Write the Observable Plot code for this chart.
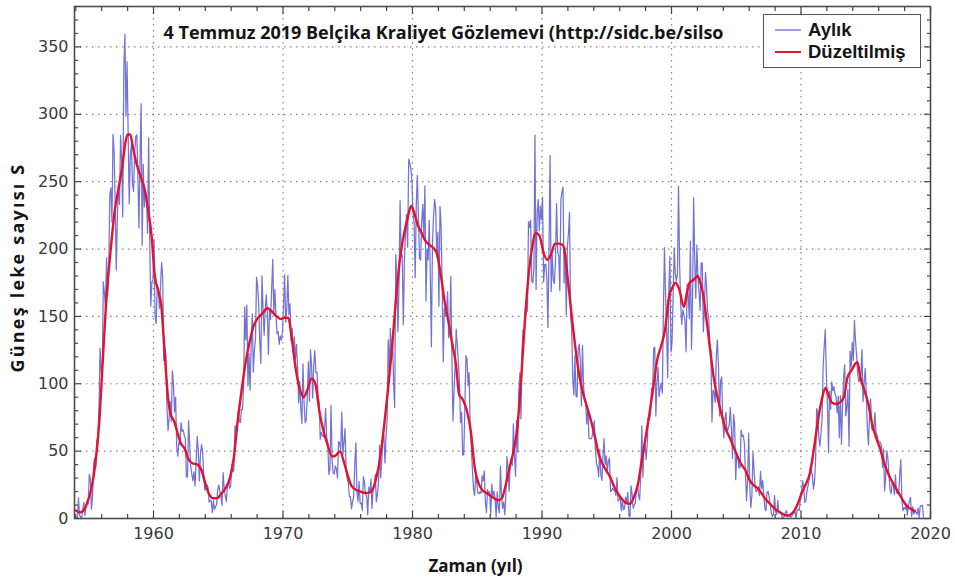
<!DOCTYPE html>
<html><head><meta charset="utf-8">
<script src="https://cdn.jsdelivr.net/npm/d3@7"></script>
<script src="https://cdn.jsdelivr.net/npm/@observablehq/plot@0.6"></script>
<style>
body{margin:0;background:#fff;}
#wrap{position:relative;width:955px;height:578px;}
#legend{position:absolute;left:763px;top:14px;width:158px;height:54px;border:1.5px solid #555;background:#fff;font:bold 18.5px/20px "Liberation Sans",Arial,sans-serif;color:#151515;box-sizing:border-box;}
.item{position:absolute;left:11px;height:20px;line-height:20px;display:flex;align-items:center;white-space:nowrap;}
.sw{width:26px;height:0;border-top:2px solid;margin-right:7px;}
</style></head><body><div id="wrap"></div>
<script>
// ---- data ----
const startYear = 1954;
// monthly mean sunspot number (Aylık), Jan 1954 .. Jun 2019
const monthly = [
0.3,0.7,15.4,2.5,1.1,0.3,6.8,11.9,2.1,9.9,13.0,10.8,
32.7,29.5,6.9,16.0,40.9,44.9,37.8,57.6,60.5,82.8,126.3,108.9,
104.2,175.6,167.7,156.8,193.4,165.1,182.8,240.2,245.3,219.9,285.1,272.0,
233.7,184.4,222.9,248.1,233.1,284.2,265.1,223.7,333.9,359.4,298.6,339.0,
286.7,233.5,270.0,277.5,248.2,242.8,271.0,283.5,284.9,257.0,215.7,265.6,
307.8,202.6,262.9,231.2,243.5,238.9,211.8,282.6,205.6,157.7,175.6,177.0,
207.2,150.1,144.7,172.8,169.4,156.0,172.3,189.9,180.1,117.2,126.9,121.2,
82.0,65.3,75.0,86.9,72.2,109.6,99.4,79.2,90.1,53.4,46.2,56.5,
54.8,71.2,64.6,65.7,61.9,59.5,30.9,30.9,72.6,55.9,38.1,32.9,
28.0,34.6,24.2,41.5,60.9,50.8,27.8,47.0,54.9,50.0,33.1,21.1,
21.7,25.1,23.4,12.2,13.5,12.9,4.4,13.2,6.7,8.6,10.5,21.4,
24.8,20.1,16.6,9.6,34.1,22.5,16.9,12.6,23.8,28.5,22.4,24.1,
39.9,34.6,35.8,69.0,64.1,67.5,80.3,72.5,71.1,81.0,81.0,99.7,
157.0,132.5,158.3,98.4,122.5,95.3,129.6,151.8,108.7,124.9,133.5,179.0,
172.5,158.4,130.6,115.0,180.1,156.2,136.1,154.8,166.0,152.5,121.8,155.5,
147.8,170.6,192.3,151.2,169.9,150.1,137.1,138.8,129.3,135.5,132.4,138.6,
157.9,181.0,145.7,155.1,180.5,151.2,159.3,131.7,140.9,122.6,134.8,118.2,
129.3,111.9,86.0,101.7,81.4,70.5,114.7,86.9,71.1,73.2,89.5,116.4,
87.1,125.2,113.4,89.5,114.0,124.6,108.3,108.7,90.6,86.8,58.9,64.1,
61.5,60.7,65.1,81.7,60.0,55.9,32.7,36.2,84.0,43.5,33.8,33.0,
39.1,36.8,30.2,57.1,55.9,51.0,79.0,47.6,56.9,66.7,35.4,29.0,
26.8,16.3,16.3,7.2,12.7,16.1,39.9,56.2,19.7,12.9,27.5,11.0,
11.5,6.1,31.0,26.6,17.6,17.3,2.7,23.2,19.1,29.2,7.4,21.7,
23.2,32.7,12.3,18.3,26.3,54.5,30.3,42.6,62.3,62.0,41.2,61.2,
73.5,132.5,108.3,141.2,117.1,134.7,99.7,82.3,195.7,177.1,138.6,173.8,
235.9,194.7,195.4,143.7,190.3,211.7,225.7,201.4,266.8,263.7,259.6,249.6,
226.0,219.5,178.7,232.4,254.7,222.7,193.0,191.7,219.5,233.2,209.4,246.9,
161.4,200.1,191.9,221.5,180.5,127.4,203.6,224.7,236.9,230.0,194.7,212.5,
157.5,231.7,217.8,172.8,116.4,156.3,150.2,152.4,168.2,134.1,138.9,179.8,
119.4,72.2,94.2,114.3,140.5,129.0,116.4,101.7,71.2,79.0,47.2,47.3,
80.7,120.9,118.2,98.7,108.2,65.3,53.0,36.1,22.2,17.0,32.3,26.5,
19.0,18.3,19.8,18.6,31.6,27.8,35.3,12.8,4.5,21.4,18.6,19.9,
2.8,25.5,16.6,20.4,15.1,1.2,19.9,8.1,4.2,38.9,16.7,7.5,
12.1,2.8,17.1,45.9,38.3,20.2,38.3,44.9,39.3,70.3,46.3,31.4,
72.6,49.2,93.7,108.2,73.9,125.2,140.0,137.3,147.7,153.9,153.9,220.4,
216.1,221.2,176.1,175.0,185.6,284.5,169.9,226.3,236.8,213.6,231.8,221.8,
238.5,175.5,188.7,188.7,177.8,141.8,200.9,269.4,168.4,195.7,176.7,174.4,
191.0,233.7,198.0,195.3,169.2,236.7,242.3,245.9,174.8,201.0,150.9,201.4,
211.5,227.2,150.4,140.7,104.1,91.9,120.8,90.9,90.1,125.1,129.4,116.5,
83.6,128.3,98.4,87.7,86.4,70.2,81.6,59.8,59.2,59.1,60.8,66.7,
72.4,51.4,40.9,38.6,31.0,51.4,32.8,28.2,45.3,59.4,39.9,46.5,
34.8,43.0,44.7,20.1,20.8,22.4,20.8,20.6,17.0,30.3,12.9,14.4,
15.5,5.9,12.4,6.5,7.4,15.9,11.1,19.4,2.2,1.2,24.2,18.0,
7.6,10.2,11.7,20.8,24.8,17.0,13.9,32.7,68.7,30.6,52.3,55.2,
43.7,55.2,75.1,73.2,77.1,96.9,91.2,126.3,127.3,76.0,101.4,112.2,
90.5,96.8,100.4,93.0,155.3,201.0,165.7,136.8,104.4,170.4,194.5,123.5,
130.6,163.7,200.8,182.0,176.3,181.1,246.6,189.2,159.1,144.1,154.9,151.4,
146.7,123.7,174.2,165.3,148.3,205.7,125.6,163.3,238.2,192.6,163.5,202.9,
179.1,168.6,154.5,189.5,189.7,138.6,156.4,182.7,172.1,153.1,149.2,128.1,
124.3,71.8,95.3,93.6,86.1,120.7,132.6,113.4,76.1,102.2,105.0,72.5,
59.9,74.1,78.7,63.3,66.8,69.6,82.3,65.9,44.6,77.3,70.0,28.8,
48.2,45.0,37.7,37.6,65.6,61.0,61.8,56.1,34.0,13.1,27.7,63.4,
25.0,8.0,17.3,49.2,36.3,22.7,19.9,21.0,23.5,17.1,34.9,22.2,
28.1,17.9,7.5,5.7,19.5,20.2,16.2,10.0,4.0,1.5,2.8,16.9,
4.8,3.0,13.5,4.2,4.6,4.9,0.7,0.7,1.6,4.2,5.9,1.2,
2.2,2.0,1.0,1.7,4.2,3.8,5.1,0.0,6.4,6.7,6.1,15.4,
19.7,27.9,23.1,11.9,13.2,20.3,24.2,29.4,37.8,35.3,32.4,21.8,
27.6,42.6,81.5,78.9,60.3,53.7,63.5,73.4,113.1,127.6,140.2,105.9,
85.7,48.7,94.4,81.1,101.4,94.8,97.8,92.6,90.3,78.4,90.8,60.0,
91.2,55.2,84.0,105.0,114.1,76.1,82.7,95.7,53.7,124.1,112.5,130.9,
117.3,147.0,131.8,121.4,107.5,101.5,103.5,106.7,125.3,86.7,100.2,111.5,
93.0,66.7,54.5,75.3,88.8,66.5,65.8,64.4,78.6,63.6,62.2,58.0,
57.0,56.4,54.1,37.9,51.5,20.5,32.4,50.2,44.6,33.4,21.4,18.5,
26.1,26.4,17.7,32.3,18.9,19.2,17.8,32.6,43.7,13.2,5.7,8.2,
6.8,10.7,2.5,8.9,13.1,15.6,1.6,8.7,3.3,4.9,4.9,3.1,
7.7,0.8,9.4,9.1,9.9,1.2
];
// 13-month smoothed sunspot number (Düzeltilmiş)
const smoothYears = [
1954.0,1954.3,1954.6,1954.9,1955.2,1955.5,1955.8,1956.1,1956.4,1956.7,1957.0,1957.3,1957.6,1957.85,1958.0,1958.2,1958.4,1958.7,1959.0,1959.3,1959.6,1959.85,1960.1,1960.4,1960.6,1960.85,1961.1,1961.3,1961.6,1961.9,1962.1,1962.4,1962.7,1963.0,1963.4,1963.7,1964.0,1964.3,1964.6,1964.9,
1965.2,1965.6,1965.9,1966.2,1966.5,1966.8,1967.1,1967.4,1967.7,1968.0,1968.4,1968.8,1969.1,1969.5,1969.8,1970.1,1970.4,1970.7,1971.0,1971.3,1971.6,1971.9,1972.2,1972.5,1972.8,1973.1,1973.4,1973.8,1974.1,1974.4,1974.7,1975.0,1975.3,1975.7,1976.0,1976.3,1976.6,1976.9,
1977.2,1977.5,1977.8,1978.1,1978.4,1978.7,1979.0,1979.3,1979.6,1979.9,1980.1,1980.4,1980.7,1981.0,1981.3,1981.6,1981.9,1982.2,1982.5,1982.8,1983.1,1983.35,1983.6,1983.9,1984.2,1984.5,1984.8,1985.1,1985.4,1985.7,1986.0,1986.3,1986.6,1986.9,1987.2,
1987.5,1987.8,1988.1,1988.4,1988.7,1989.0,1989.25,1989.5,1989.8,1990.1,1990.4,1990.7,1991.0,1991.3,1991.6,1991.8,1992.0,1992.3,1992.6,1992.9,1993.2,1993.5,1993.8,1994.1,1994.4,1994.7,1995.0,1995.3,1995.6,1995.9,1996.2,1996.5,1996.8,1997.1,1997.4,1997.7,
1998.0,1998.3,1998.6,1998.9,1999.2,1999.5,1999.8,2000.1,2000.3,2000.6,2000.95,2001.2,2001.4,2001.7,2002.0,2002.2,2002.45,2002.7,2002.95,2003.3,2003.6,2003.9,2004.2,2004.5,2004.8,2005.1,2005.4,2005.7,2006.0,2006.3,2006.7,2007.0,2007.3,2007.65,2008.0,2008.4,2008.9,2009.2,2009.5,2009.8,
2010.1,2010.4,2010.7,2011.0,2011.3,2011.6,2011.9,2012.1,2012.4,2012.7,2013.0,2013.3,2013.6,2013.9,2014.2,2014.35,2014.6,2014.9,2015.2,2015.5,2015.8,2016.1,2016.4,2016.7,2017.0,2017.3,2017.6,2017.9,2018.2,2018.5,2018.8
];
const smoothValues = [
6,4.5,6,12,22,40,70,120,168,200,228,245,262,280,285,285,276,263,254,245,228,210,180,168,158,125,92,78,72,62,56,52,44,41,40,36,26,18,15,15,
18,23,30,45,72,95,115,130,142,148,152,156,154,150,148,149,149,132,110,96,90,96,104,100,80,66,56,46,47,50,42,32,24,21,20,19,19,21,
30,45,68,95,125,160,190,209,222,232,228,218,212,206,203,201,196,180,160,145,128,115,92,88,80,65,38,26,21,19,17,15,13.5,15,25,
38,50,68,105,150,184,202,212,210,198,192,196,204,204,203,195,177,150,125,105,92,82,72,60,47,40,35,30,23,18,14,11.5,11,16,25,43,
60,78,98,118,128,140,164,172,175,170,157,168,175,177,180,176,166,148,128,102,88,76,66,60,53,46,40,36,29,25,22,18,14,10.5,7,4.5,2.2,3,6,12,
20,26,34,52,72,88,97,92,86,85,86,90,105,110,115,116,104,95,85,70,60,52,42,34,28,23,18,13,9,7,5.5
];
const majorX = [1960,1970,1980,1990,2000,2010,2020];
const minorX = [1954,1956,1958,1962,1964,1966,1968,1972,1974,1976,1978,1982,1984,1986,1988,1992,1994,1996,1998,2002,2004,2006,2008,2012,2014,2016,2018];
const majorY = [0,50,100,150,200,250,300,350];
const minorY = [10,20,30,40,60,70,80,90,110,120,130,140,160,170,180,190,210,220,230,240,260,270,280,290,310,320,330,340,360,370];
const title = "4 Temmuz 2019 Belçika Kraliyet Gözlemevi (http://sidc.be/silso";
const xLabel = "Zaman (yıl)";
const yLabel = "Güneş leke sayısı S";
const seriesNames = ["Aylık", "Düzeltilmiş"];
const seriesColors = ["#6464d2", "#e3122f"];

// ---- build tables ----
const monthlyData = monthly.map((v, i) => ({t: startYear + (i + 0.5) / 12, v}));
const smoothData = smoothYears.map((t, i) => ({t, v: smoothValues[i]}));

const tickStyle = {stroke: "#444", strokeWidth: 1.2, tickFormat: () => "", label: null};
const bold = {fontWeight: "bold", fontFamily: "Open Sans", fill: "#151515"};

const chart = Plot.plot({
  width: 955, height: 578,
  marginLeft: 74, marginRight: 25, marginTop: 6, marginBottom: 60,
  style: {fontFamily: "DejaVu Sans", fontSize: "16px", color: "#3a3a3a", background: "#fff"},
  x: {domain: [1953.9, 2020]},
  y: {domain: [0, 380]},
  marks: [
    Plot.gridX(majorX.filter(d => d < 2020), {stroke: "#777", strokeOpacity: 0.9, strokeDasharray: "1.5,4.5", strokeWidth: 1.2}),
    Plot.gridY(majorY.filter(d => d > 0), {stroke: "#777", strokeOpacity: 0.9, strokeDasharray: "1.5,4.5", strokeWidth: 1.2}),
    Plot.lineY(monthlyData, {x: "t", y: "v", stroke: seriesColors[0], strokeWidth: 1.25, strokeOpacity: 0.9, clip: true}),
    Plot.line(smoothData, {x: "t", y: "v", stroke: seriesColors[1], strokeWidth: 2.4, curve: "monotone-x", clip: true}),
    Plot.axisX(majorX, {anchor: "bottom", tickSize: 0, tickPadding: 9, tickFormat: "d", label: null}),
    Plot.axisY(majorY, {anchor: "left", tickSize: 0, tickPadding: 6, label: null}),
    Plot.axisX(majorX, {anchor: "bottom", tickSize: -7, ...tickStyle}),
    Plot.axisX(minorX, {anchor: "bottom", tickSize: -4, ...tickStyle}),
    Plot.axisX(majorX, {anchor: "top", tickSize: -7, ...tickStyle}),
    Plot.axisX(minorX, {anchor: "top", tickSize: -4, ...tickStyle}),
    Plot.axisY(majorY, {anchor: "left", tickSize: -7, ...tickStyle}),
    Plot.axisY(minorY, {anchor: "left", tickSize: -4, ...tickStyle}),
    Plot.axisY(majorY, {anchor: "right", tickSize: -7, ...tickStyle}),
    Plot.axisY(minorY, {anchor: "right", tickSize: -4, ...tickStyle}),
    Plot.frame({stroke: "#4a4a4a", strokeWidth: 1.6}),
    Plot.text([title], {frameAnchor: "top-left", dx: 89, dy: 27, textAnchor: "start", lineAnchor: "middle", fontSize: 18, ...bold}),
    Plot.text([xLabel], {frameAnchor: "bottom", dx: -27, dy: 48, textAnchor: "middle", lineAnchor: "middle", fontSize: 17, ...bold}),
    Plot.text([yLabel], {frameAnchor: "left", dx: -56, dy: 5, rotate: -90, textAnchor: "middle", lineAnchor: "middle", fontSize: 18, ...bold})
  ]
});
// spread the rotated y label to the reference's length
d3.select(chart).selectAll("text").filter(function() { return this.textContent === yLabel; })
  .attr("letter-spacing", "2.2px");
const wrap = document.getElementById("wrap");
wrap.appendChild(chart);

// legend box (top right, inside the frame)
const legend = document.createElement("div");
legend.id = "legend";
seriesNames.forEach((name, i) => {
  const item = document.createElement("div");
  item.className = "item";
  item.style.top = (5 + i * 22) + "px";
  const sw = document.createElement("span");
  sw.className = "sw";
  sw.style.borderColor = i === 0 ? "#9d9de6" : seriesColors[1];
  item.appendChild(sw);
  item.appendChild(document.createTextNode(name));
  legend.appendChild(item);
});
wrap.appendChild(legend);
</script>
</body></html>
